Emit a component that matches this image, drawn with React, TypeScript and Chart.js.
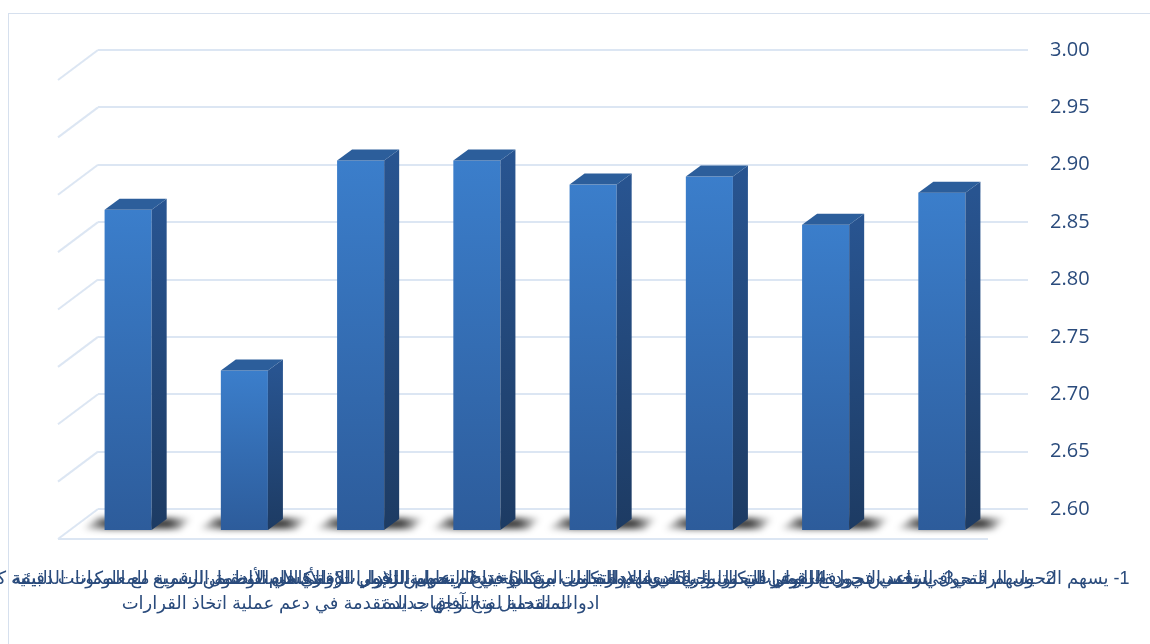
import React, { useEffect, useRef } from "react";
import { Chart, registerables } from "chart.js";

Chart.register(...registerables);

// Categories (RTL sheet: category 1 is drawn at the right)
const categories: (string | string[])[] = [
  "1- يسهم التحول الرقمي في تحسين جودة القرارات",
  "2- يسهم التحول الرقمي في رفع الوعي التكنولوجي لدى الإدارة",
  "3- يساعد التحول الرقمي في التنبؤ بالتغيرات والتكامل بين الوحدات",
  "4- يوفر التحول الرقمي قاعدة بيانات متكاملة تدعم عملية القرار",
  ["5- يسهم التحول الرقمي في الربط بين الإدارات والأقسام", "المتقدمة لفتح آفاق جديدة"],
  ["6- يتيح التحول الرقمي للإدارة الاستفادة من", "ادوات التحليل و التوجهات المتقدمة في دعم عملية اتخاذ القرارات"],
  "7- يسهم التحول الرقمي في الوصول السريع للمعلومات الدقيقة",
  "8- تتكامل الأنظمة الرقمية مع المكونات البيئية كالتي يستفاد",
];
const values: number[] = [2.894, 2.866, 2.908, 2.901, 2.922, 2.922, 2.739, 2.879];
const yTicks: number[] = [2.6, 2.65, 2.7, 2.75, 2.8, 2.85, 2.9, 2.95, 3.0];
const yMin = 2.6;
const yMax = 3.0;

const GRID = "#dce6f3";
const TEXT = "#2a4b7c";
const WALL = { dx: -40, dy: 30 };
const FRONT = { dx: -28, dy: 21 };
const DEPTH = { dx: 15, dy: -11 };

const threeD = {
  id: "threeD",
  beforeDraw(chart: any) {
    const { ctx } = chart;
    ctx.save();
    ctx.fillStyle = "#ffffff";
    ctx.fillRect(0, 0, chart.width, chart.height);
    ctx.strokeStyle = "#d6e0ee";
    ctx.lineWidth = 1;
    ctx.strokeRect(8.5, 13.5, 1200, 700);
    ctx.restore();
  },
  beforeDatasetsDraw(chart: any) {
    const { ctx, chartArea, scales } = chart;
    const y = scales.y;
    ctx.save();
    ctx.strokeStyle = GRID;
    ctx.lineWidth = 2;
    y.ticks.forEach((t: any) => {
      const py = y.getPixelForValue(t.value);
      ctx.beginPath();
      ctx.moveTo(chartArea.left, py);
      ctx.lineTo(chartArea.left + WALL.dx, py + WALL.dy);
      ctx.stroke();
    });
    const p0 = y.getPixelForValue(yMin);
    ctx.beginPath();
    ctx.moveTo(chartArea.left + WALL.dx, p0 + WALL.dy);
    ctx.lineTo(chartArea.right + WALL.dx, p0 + WALL.dy);
    ctx.stroke();
    ctx.restore();
  },
  afterDatasetsDraw(chart: any) {
    const { ctx, scales } = chart;
    const meta = chart.getDatasetMeta(0);
    const basePx = scales.y.getPixelForValue(yMin);
    const els = meta.data.map((el: any) => el.getProps(["x", "y", "width"], true));
    // shadows on the floor
    els.forEach((p: any) => {
      const x0 = p.x - p.width / 2 + FRONT.dx;
      const x1 = p.x + p.width / 2 + FRONT.dx;
      const yb = basePx + FRONT.dy;
      ctx.save();
      ctx.filter = "blur(3px)";
      const g = ctx.createLinearGradient(x0 - 24, 0, x1 + 40, 0);
      g.addColorStop(0, "rgba(0,0,0,0)");
      g.addColorStop(0.25, "rgba(0,0,0,0.75)");
      g.addColorStop(0.8, "rgba(0,0,0,0.75)");
      g.addColorStop(1, "rgba(0,0,0,0)");
      ctx.fillStyle = g;
      ctx.beginPath();
      ctx.moveTo(x0 - 22, yb - 1);
      ctx.lineTo(x1 + 28, yb - 1);
      ctx.lineTo(x1 + 42, yb - 12);
      ctx.lineTo(x0 - 6, yb - 12);
      ctx.closePath();
      ctx.fill();
      ctx.restore();
    });
    els.forEach((p: any) => {
      const x0 = p.x - p.width / 2 + FRONT.dx;
      const x1 = p.x + p.width / 2 + FRONT.dx;
      const yt = p.y + FRONT.dy;
      const yb = basePx + FRONT.dy;
      ctx.save();
      // front face
      const gF = ctx.createLinearGradient(0, yt, 0, yb);
      gF.addColorStop(0, "#3b7ecb");
      gF.addColorStop(1, "#2d5c9b");
      ctx.fillStyle = gF;
      ctx.fillRect(x0, yt, x1 - x0, yb - yt);
      // side face
      const gS = ctx.createLinearGradient(0, yt, 0, yb);
      gS.addColorStop(0, "#285490");
      gS.addColorStop(1, "#1d3b63");
      ctx.fillStyle = gS;
      ctx.beginPath();
      ctx.moveTo(x1, yt);
      ctx.lineTo(x1 + DEPTH.dx, yt + DEPTH.dy);
      ctx.lineTo(x1 + DEPTH.dx, yb + DEPTH.dy);
      ctx.lineTo(x1, yb);
      ctx.closePath();
      ctx.fill();
      // top face
      ctx.fillStyle = "#2c5e9b";
      ctx.beginPath();
      ctx.moveTo(x0, yt);
      ctx.lineTo(x1, yt);
      ctx.lineTo(x1 + DEPTH.dx, yt + DEPTH.dy);
      ctx.lineTo(x0 + DEPTH.dx, yt + DEPTH.dy);
      ctx.closePath();
      ctx.fill();
      ctx.restore();
    });
  },
  afterDraw(chart: any) {
    const { ctx, scales } = chart;
    const x = scales.x;
    ctx.save();
    ctx.font = "18px Arial, 'DejaVu Sans', sans-serif";
    ctx.fillStyle = TEXT;
    ctx.textAlign = "center";
    ctx.textBaseline = "middle";
    ctx.direction = "rtl";
    categories.forEach((lab, i) => {
      const lines = Array.isArray(lab) ? lab : [lab];
      const cx = x.getPixelForValue(i) + FRONT.dx;
      lines.forEach((ln, j) => {
        ctx.fillText(ln, cx, 579 + j * 25);
      });
    });
    ctx.restore();
  },
};

export default function App() {
  const ref = useRef<HTMLCanvasElement | null>(null);
  useEffect(() => {
    if (!ref.current) return;
    const chart = new Chart(ref.current, {
      type: "bar",
      data: {
        labels: categories.map((c) => (Array.isArray(c) ? c.join(" ") : c)),
        datasets: [
          {
            data: values,
            base: yMin,
            backgroundColor: "rgba(0,0,0,0)",
            borderWidth: 0,
            barPercentage: 0.405,
            categoryPercentage: 1,
          } as any,
        ],
      },
      options: {
        responsive: false,
        animation: false,
        devicePixelRatio: 1,
        layout: { padding: { left: 98, top: 50, right: 58, bottom: 135 } },
        plugins: { legend: { display: false }, tooltip: { enabled: false } },
        scales: {
          x: {
            reverse: true,
            display: false,
            grid: { display: false },
          },
          y: {
            position: "right",
            min: yMin,
            max: yMax,
            afterBuildTicks: (s: any) => {
              s.ticks = yTicks.map((v) => ({ value: v }));
            },
            afterFit: (s: any) => {
              s.width = 64;
            },
            border: { display: false },
            grid: { color: GRID, lineWidth: 2, drawTicks: false },
            ticks: {
              padding: 22,
              color: TEXT,
              font: { family: "'Open Sans', sans-serif", size: 20 },
              callback: (v: any) => Number(v).toFixed(2),
            },
          },
        },
      },
      plugins: [threeD],
    });
    return () => chart.destroy();
  }, []);
  return (
    <div style={{ position: "fixed", left: 0, top: 0, width: 1150, height: 644 }}>
      <canvas ref={ref} width={1150} height={644} style={{ display: "block" }} />
    </div>
  );
}
